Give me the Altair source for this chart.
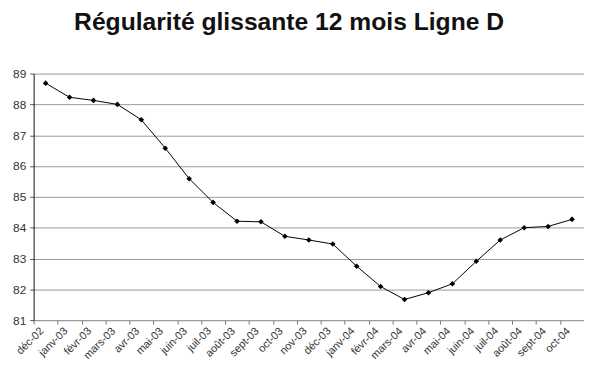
import altair as alt
import pandas as pd

months = ["déc-02", "janv-03", "févr-03", "mars-03", "avr-03", "mai-03", "juin-03",
          "juil-03", "août-03", "sept-03", "oct-03", "nov-03", "déc-03", "janv-04",
          "févr-04", "mars-04", "avr-04", "mai-04", "juin-04", "juil-04", "août-04",
          "sept-04", "oct-04"]
values = [88.69, 88.23, 88.13, 88.0, 87.5, 86.58, 85.59, 84.82, 84.21, 84.19, 83.72,
          83.6, 83.47, 82.75, 82.09, 81.67, 81.89, 82.18, 82.91, 83.6, 84.0, 84.04, 84.27]
y_ticks = [81, 82, 83, 84, 85, 86, 87, 88, 89]

df = pd.DataFrame({"mois": months, "val": values})

font = "Liberation Sans"

chart = alt.Chart(df).mark_line(
    color="black", strokeWidth=1,
    point=alt.OverlayMarkDef(shape="diamond", size=32, filled=True, color="black"),
).encode(
    x=alt.X("mois:N", sort=months, bandPosition=0.5,
            scale=alt.Scale(type="band", paddingInner=0, paddingOuter=0),
            axis=alt.Axis(title=None, grid=False, tickBand="extent",
                          labelAngle=-45, labelAlign="right", labelBaseline="middle",
                          labelOffset=-4, labelPadding=5, labelFontSize=11,
                          labelColor="#333", labelFont=font,
                          domainColor="#999", tickColor="#777", tickSize=4)),
    y=alt.Y("val:Q", scale=alt.Scale(domain=[81, 89], nice=False, zero=False),
            axis=alt.Axis(title=None, values=y_ticks, grid=True, gridColor="#999",
                          gridWidth=1, domainColor="#111", tickColor="#555",
                          tickSize=4, labelPadding=4, labelFontSize=12,
                          labelColor="#333", labelFont=font)),
).properties(
    width=558, height=250,
    autosize=alt.AutoSizeParams(type="none"),
    padding={"left": 26, "top": 64, "right": 0, "bottom": 44},
    title=alt.TitleParams("Régularité glissante 12 mois Ligne D", font=font,
                          fontSize=25, fontWeight="bold", color="#111",
                          anchor="middle", dx=-20, offset=33),
).configure_view(stroke=None)

chart.save("out.html", embed_options={"renderer": "svg", "actions": False})
